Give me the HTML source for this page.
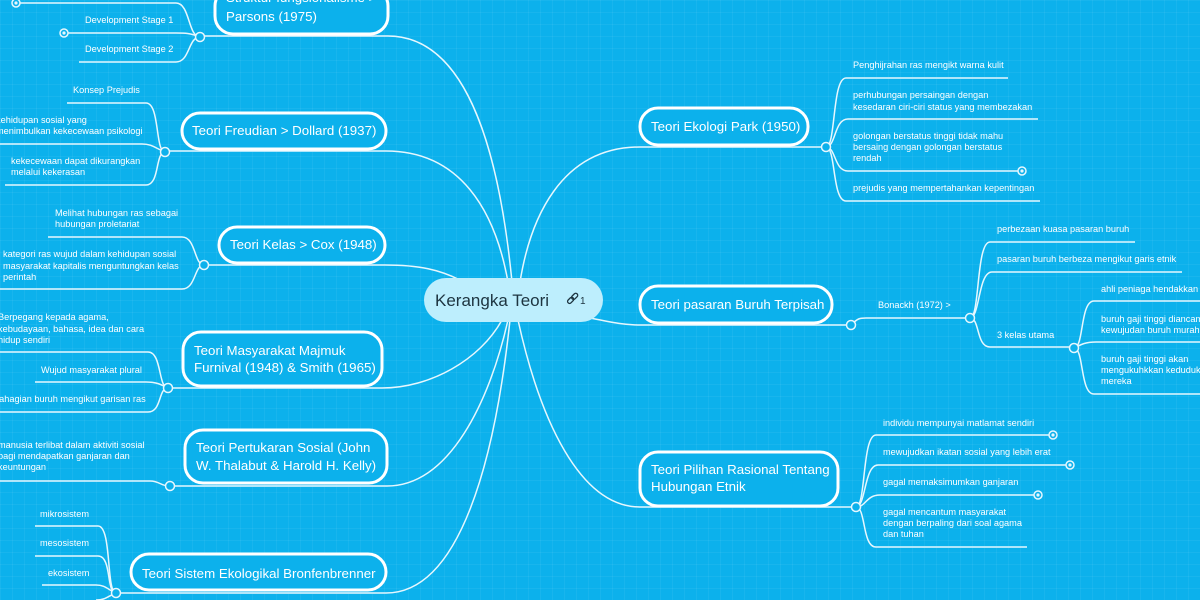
<!DOCTYPE html>
<html><head><meta charset="utf-8">
<style>
html,body{margin:0;padding:0;}
body{width:1200px;height:600px;overflow:hidden;background:#0cb1ec;
background-image:linear-gradient(rgba(255,255,255,0.05) 1px,transparent 1px),linear-gradient(90deg,rgba(255,255,255,0.05) 1px,transparent 1px);
background-size:12px 12px;}
svg{position:absolute;left:0;top:0;}
text{font-family:"Liberation Sans",sans-serif;fill:#ffffff;}
.c{font-size:9.2px;fill:#e3f5fc;}
.m{font-size:13.3px;}
</style></head><body>
<svg width="1200" height="600" viewBox="0 0 1200 600">
<g fill="none" stroke="#e6f7fe" stroke-width="1.5">
<path d="M388 36 C470 36 500 160 512 282"/>
<path d="M386 151 C460 151 495 210 508 282"/>
<path d="M385 265 C420 265 440 270 460 280"/>
<path d="M382 388 C430 388 480 360 502 320"/>
<path d="M387 486 C450 486 490 400 508 320"/>
<path d="M386 593 C460 593 495 460 510 320"/>
<path d="M640 147 C560 147 530 220 520 282"/>
<path d="M590 318 C615 323 625 325 640 325"/>
<path d="M640 507 C580 507 540 420 518 320"/>
<path d="M203 36 H388"/><path d="M165 151 H386"/><path d="M204 265 H385"/>
<path d="M168 388 H382"/><path d="M170 486 H387"/><path d="M116 593 H386"/>
<path d="M640 147 H826"/><path d="M640 325 H851"/><path d="M640 507 H856"/>
<path d="M200 37 C188 37 190 3 176 3 H16"/>
<path d="M200 37 C190 33 185 33 176 33 H64"/>
<path d="M200 37 C188 37 190 62 176 62 H79"/>
<path d="M165 152 C155 152 160 103 146 103 H67"/>
<path d="M165 152 C155 148 152 144 142 144 H0"/>
<path d="M165 152 C155 152 160 185 146 185 H5"/>
<path d="M204 265 C194 265 196 237 182 237 H48"/>
<path d="M204 265 C194 265 196 289 182 289 H0"/>
<path d="M168 388 C158 388 162 352 148 352 H0"/>
<path d="M168 388 C160 384 156 382 146 382 H35"/>
<path d="M168 388 C158 388 162 412 148 412 H0"/>
<path d="M170 486 C160 486 160 481 150 481 H0"/>
<path d="M116 593 C106 593 112 526 98 526 H35"/>
<path d="M116 593 C106 593 112 556 98 556 H35"/>
<path d="M116 593 C108 590 106 585 96 585 H42"/>
<path d="M116 593 C108 596 106 600 96 600"/>
<path d="M826 147 C836 147 832 78 846 78 H1008"/>
<path d="M826 147 C836 147 834 119 848 119 H1038"/>
<path d="M826 147 C836 147 834 171 848 171 H1020"/>
<path d="M826 147 C836 147 832 201 846 201 H1040"/>
<path d="M851 325 C858 318 860 318 866 318 H970"/>
<path d="M970 318 C980 318 976 242 990 242 H1135"/>
<path d="M970 318 C980 318 978 272 992 272 H1182"/>
<path d="M970 318 C980 318 976 347 990 347 H1074"/>
<path d="M1074 348 C1084 348 1080 301 1094 301 H1200"/>
<path d="M1074 348 C1082 344 1086 342 1096 342 H1200"/>
<path d="M1074 348 C1084 348 1080 394 1094 394 H1200"/>
<path d="M856 507 C866 507 862 435 876 435 H1050"/>
<path d="M856 507 C866 507 864 465 878 465 H1067"/>
<path d="M856 507 C866 507 866 495 880 495 H1035"/>
<path d="M856 507 C866 507 862 547 876 547 H1027"/>
</g>
<g fill="#0cb1ec" stroke="#e6f7fe" stroke-width="1.5">
<circle cx="200" cy="37" r="4.5"/><circle cx="165" cy="152" r="4.5"/><circle cx="204" cy="265" r="4.5"/>
<circle cx="168" cy="388" r="4.5"/><circle cx="170" cy="486" r="4.5"/><circle cx="116" cy="593" r="4.5"/>
<circle cx="826" cy="147" r="4.5"/><circle cx="851" cy="325" r="4.5"/><circle cx="970" cy="318" r="4.5"/>
<circle cx="1074" cy="348" r="4.5"/><circle cx="856" cy="507" r="4.5"/>
<circle cx="16" cy="3" r="4"/><circle cx="64" cy="33" r="4"/><circle cx="1022" cy="171" r="4"/>
<circle cx="1053" cy="435" r="4"/><circle cx="1070" cy="465" r="4"/><circle cx="1038" cy="495" r="4"/>
</g>
<g fill="#e6f7fe">
<circle cx="16" cy="3" r="1.6"/><circle cx="64" cy="33" r="1.6"/><circle cx="1022" cy="171" r="1.6"/>
<circle cx="1053" cy="435" r="1.6"/><circle cx="1070" cy="465" r="1.6"/><circle cx="1038" cy="495" r="1.6"/>
</g>
<g fill="#0cb1ec" stroke="#ffffff" stroke-width="3">
<rect x="215" y="-12" width="173" height="46" rx="18"/>
<rect x="182" y="113" width="204" height="36" rx="18"/>
<rect x="219" y="227" width="166" height="36" rx="18"/>
<rect x="183" y="332" width="199" height="54" rx="18"/>
<rect x="185" y="430" width="202" height="53" rx="18"/>
<rect x="131" y="554" width="255" height="36" rx="18"/>
<rect x="640" y="108" width="168" height="37" rx="18"/>
<rect x="640" y="286" width="192" height="37" rx="18"/>
<rect x="640" y="452" width="198" height="54" rx="18"/>
</g>
<rect x="424" y="278" width="179" height="44" rx="22" fill="#bdeefd"/>
<text x="435" y="306" style="font-size:17px;fill:#1d3440">Kerangka Teori</text>
<g fill="none" stroke="#1d3440" stroke-width="1.3">
<rect x="569" y="297" width="4" height="7" rx="2" transform="rotate(45 571 300)"/>
<rect x="573" y="293" width="4" height="7" rx="2" transform="rotate(45 575 296)"/>
</g>
<text x="580" y="304" style="font-size:10px;fill:#1d3440">1</text>
<g class="m">
<text x="226" y="2">Struktur fungsionalisme &gt;</text>
<text x="226" y="21">Parsons (1975)</text>
<text x="192" y="135">Teori Freudian &gt; Dollard (1937)</text>
<text x="230" y="249">Teori Kelas &gt; Cox (1948)</text>
<text x="194" y="355">Teori Masyarakat Majmuk</text>
<text x="194" y="372">Furnival (1948) &amp; Smith (1965)</text>
<text x="196" y="452">Teori Pertukaran Sosial (John</text>
<text x="196" y="470">W. Thalabut &amp; Harold H. Kelly)</text>
<text x="142" y="578">Teori Sistem Ekologikal Bronfenbrenner</text>
<text x="651" y="131">Teori Ekologi Park (1950)</text>
<text x="651" y="309">Teori pasaran Buruh Terpisah</text>
<text x="651" y="474">Teori Pilihan Rasional Tentang</text>
<text x="651" y="491">Hubungan Etnik</text>
</g>
<g class="c">
<text x="85" y="23">Development Stage 1</text>
<text x="85" y="52">Development Stage 2</text>
<text x="73" y="93">Konsep Prejudis</text>
<text x="-4" y="123">kehidupan sosial yang</text>
<text x="-4" y="134">menimbulkan kekecewaan psikologi</text>
<text x="11" y="164">kekecewaan dapat dikurangkan</text>
<text x="11" y="175">melalui kekerasan</text>
<text x="55" y="216">Melihat hubungan ras sebagai</text>
<text x="55" y="227">hubungan proletariat</text>
<text x="3" y="257">kategori ras wujud dalam kehidupan sosial</text>
<text x="3" y="269">masyarakat kapitalis menguntungkan kelas</text>
<text x="3" y="280">perintah</text>
<text x="-2" y="320">Berpegang kepada agama,</text>
<text x="-2" y="332">kebudayaan, bahasa, idea dan cara</text>
<text x="-2" y="343">hidup sendiri</text>
<text x="41" y="373">Wujud masyarakat plural</text>
<text x="-6" y="402">bahagian buruh mengikut garisan ras</text>
<text x="-2" y="448">manusia terlibat dalam aktiviti sosial</text>
<text x="-2" y="459">bagi mendapatkan ganjaran dan</text>
<text x="-2" y="470">keuntungan</text>
<text x="40" y="517">mikrosistem</text>
<text x="40" y="546">mesosistem</text>
<text x="48" y="576">ekosistem</text>
<text x="853" y="68">Penghijrahan ras mengikt warna kulit</text>
<text x="853" y="98">perhubungan persaingan dengan</text>
<text x="853" y="110">kesedaran ciri-ciri status yang membezakan</text>
<text x="853" y="139">golongan berstatus tinggi tidak mahu</text>
<text x="853" y="150">bersaing dengan golongan berstatus</text>
<text x="853" y="161">rendah</text>
<text x="853" y="191">prejudis yang mempertahankan kepentingan</text>
<text x="878" y="308">Bonackh (1972) &gt;</text>
<text x="997" y="232">perbezaan kuasa pasaran buruh</text>
<text x="997" y="262">pasaran buruh berbeza mengikut garis etnik</text>
<text x="997" y="338">3 kelas utama</text>
<text x="1101" y="292">ahli peniaga hendakkan</text>
<text x="1101" y="322">buruh gaji tinggi diancam</text>
<text x="1101" y="333">kewujudan buruh murah</text>
<text x="1101" y="362">buruh gaji tinggi akan</text>
<text x="1101" y="373">mengukuhkkan kedudukan</text>
<text x="1101" y="384">mereka</text>
<text x="883" y="426">individu mempunyai matlamat sendiri</text>
<text x="883" y="455">mewujudkan ikatan sosial yang lebih erat</text>
<text x="883" y="485">gagal memaksimumkan ganjaran</text>
<text x="883" y="515">gagal mencantum masyarakat</text>
<text x="883" y="526">dengan berpaling dari soal agama</text>
<text x="883" y="537">dan tuhan</text>
</g>
</svg>
</body></html>
